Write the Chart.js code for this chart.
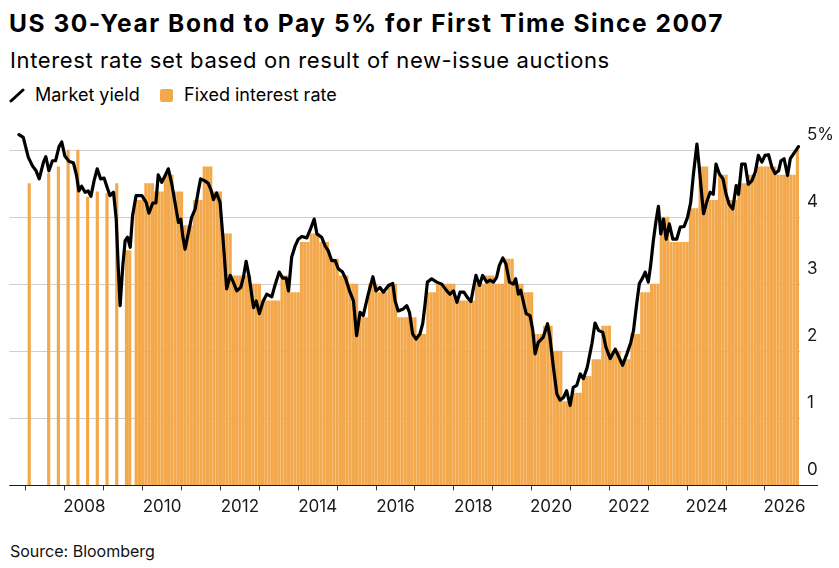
<!DOCTYPE html>
<html>
<head>
<meta charset="utf-8">
<script src="https://cdn.jsdelivr.net/npm/chart.js@4.4.1/dist/chart.umd.min.js"></script>
<style>
  html, body { margin: 0; padding: 0; background: #fff; }
  body { width: 839px; height: 568px; position: relative; overflow: hidden; font-family: Inter, "Liberation Sans", Arial, sans-serif; color: #000; }
  .txt { position: absolute; white-space: nowrap; }
  #title { left: 9px; top: 11px; font-size: 24.5px; line-height: 24px; font-weight: 700; letter-spacing: 1.55px; }
  #subtitle { left: 10px; top: 49px; font-size: 22px; line-height: 22px; letter-spacing: 0.62px; }
  .leg { top: 85px; font-size: 18px; line-height: 19px; }
  #legLine { position: absolute; left: 9px; top: 88px; }
  #legBox { position: absolute; left: 160px; top: 89px; width: 13px; height: 13px; background: #F2A84B; border-radius: 2px; }
  #source { left: 10px; top: 543px; font-size: 16px; line-height: 17px; color: #111; }
  #wrap { position: absolute; left: 0; top: 105.5px; width: 839px; height: 424.5px; }
</style>
</head>
<body>
<div id="title" class="txt">US 30-Year Bond to Pay 5% for First Time Since 2007</div>
<div id="subtitle" class="txt">Interest rate set based on result of new-issue auctions</div>
<svg id="legLine" width="16" height="15" viewBox="0 0 16 15"><line x1="2" y1="13" x2="14" y2="2" stroke="#000" stroke-width="3" stroke-linecap="round"/></svg>
<div class="txt leg" style="left:35px">Market yield</div>
<div id="legBox"></div>
<div class="txt leg" style="left:184px">Fixed interest rate</div>
<div id="wrap"><canvas id="bondChart"></canvas></div>
<div id="source" class="txt">Source: Bloomberg</div>

<script>
// auction months and the coupon set at each one
const auctionMonths = [
  '2006-08', '2007-02', '2007-05', '2007-08', '2007-11', '2008-02', '2008-05', '2008-08', '2008-11', '2009-02', '2009-03',
  '2009-05', '2009-06', '2009-07', '2009-08', '2009-09', '2009-10', '2009-11', '2009-12',
  '2010-01', '2010-02', '2010-03', '2010-04', '2010-05', '2010-06', '2010-07', '2010-08', '2010-09', '2010-10', '2010-11', '2010-12',
  '2011-01', '2011-02', '2011-03', '2011-04', '2011-05', '2011-06', '2011-07', '2011-08', '2011-09', '2011-10', '2011-11', '2011-12',
  '2012-01', '2012-02', '2012-03', '2012-04', '2012-05', '2012-06', '2012-07', '2012-08', '2012-09', '2012-10', '2012-11', '2012-12',
  '2013-01', '2013-02', '2013-03', '2013-04', '2013-05', '2013-06', '2013-07', '2013-08', '2013-09', '2013-10', '2013-11', '2013-12',
  '2014-01', '2014-02', '2014-03', '2014-04', '2014-05', '2014-06', '2014-07', '2014-08', '2014-09', '2014-10', '2014-11', '2014-12',
  '2015-01', '2015-02', '2015-03', '2015-04', '2015-05', '2015-06', '2015-07', '2015-08', '2015-09', '2015-10', '2015-11', '2015-12',
  '2016-01', '2016-02', '2016-03', '2016-04', '2016-05', '2016-06', '2016-07', '2016-08', '2016-09', '2016-10', '2016-11', '2016-12',
  '2017-01', '2017-02', '2017-03', '2017-04', '2017-05', '2017-06', '2017-07', '2017-08', '2017-09', '2017-10', '2017-11', '2017-12',
  '2018-01', '2018-02', '2018-03', '2018-04', '2018-05', '2018-06', '2018-07', '2018-08', '2018-09', '2018-10', '2018-11', '2018-12',
  '2019-01', '2019-02', '2019-03', '2019-04', '2019-05', '2019-06', '2019-07', '2019-08', '2019-09', '2019-10', '2019-11', '2019-12',
  '2020-01', '2020-02', '2020-03', '2020-04', '2020-05', '2020-06', '2020-07', '2020-08', '2020-09', '2020-10', '2020-11', '2020-12',
  '2021-01', '2021-02', '2021-03', '2021-04', '2021-05', '2021-06', '2021-07', '2021-08', '2021-09', '2021-10', '2021-11', '2021-12',
  '2022-01', '2022-02', '2022-03', '2022-04', '2022-05', '2022-06', '2022-07', '2022-08', '2022-09', '2022-10', '2022-11', '2022-12',
  '2023-01', '2023-02', '2023-03', '2023-04', '2023-05', '2023-06', '2023-07', '2023-08', '2023-09', '2023-10', '2023-11', '2023-12',
  '2024-01', '2024-02', '2024-03', '2024-04', '2024-05', '2024-06', '2024-07', '2024-08', '2024-09', '2024-10', '2024-11', '2024-12',
  '2025-01', '2025-02', '2025-03', '2025-04', '2025-05', '2025-06', '2025-07', '2025-08', '2025-09', '2025-10', '2025-11', '2025-12',
  '2026-01', '2026-02', '2026-03', '2026-04', '2026-05'
];
const couponRates = [
  4.5, 4.65, 4.75, 5, 5, 4.3, 4.375, 4.35, 4.5, 3.5, 3.5,
  4.25, 4.25, 4.25, 4.5, 4.5, 4.5, 4.375, 4.375,
  4.375, 4.625, 4.625, 4.625, 4.375, 4.375, 4.375, 3.875, 3.875, 3.875, 4.25, 4.25,
  4.25, 4.75, 4.75, 4.75, 4.375, 4.375, 4.375, 3.75, 3.75, 3.75, 3.125, 3.125,
  3.125, 3.125, 3.125, 3.125, 3, 3, 3, 2.75, 2.75, 2.75, 2.75, 2.75,
  2.75, 3.125, 3.125, 3.125, 2.875, 2.875, 2.875, 3.625, 3.625, 3.625, 3.75, 3.75,
  3.75, 3.625, 3.625, 3.625, 3.375, 3.375, 3.375, 3.125, 3.125, 3.125, 3, 3,
  3, 2.5, 2.5, 2.5, 3, 3, 3, 2.875, 2.875, 2.875, 3, 3,
  3, 2.5, 2.5, 2.5, 2.5, 2.5, 2.5, 2.25, 2.25, 2.25, 2.875, 2.875,
  2.875, 3, 3, 3, 3, 3, 3, 2.75, 2.75, 2.75, 2.75, 2.75,
  2.75, 3, 3, 3, 3.125, 3.125, 3.125, 3, 3, 3, 3.375, 3.375,
  3.375, 3, 3, 3, 2.875, 2.875, 2.875, 2.25, 2.25, 2.25, 2.375, 2.375,
  2.375, 2, 2, 2, 1.25, 1.25, 1.25, 1.375, 1.375, 1.375, 1.625, 1.625,
  1.625, 1.875, 1.875, 1.875, 2.375, 2.375, 2.375, 2, 2, 2, 1.875, 1.875,
  1.875, 2.25, 2.25, 2.25, 2.875, 2.875, 2.875, 3, 3, 3, 4, 4,
  4, 3.625, 3.625, 3.625, 3.625, 3.625, 3.625, 4.125, 4.125, 4.125, 4.75, 4.75,
  4.75, 4.25, 4.25, 4.25, 4.625, 4.625, 4.625, 4.25, 4.25, 4.25, 4.5, 4.5,
  4.5, 4.625, 4.625, 4.625, 4.75, 4.75, 4.75, 4.75, 4.75, 4.75, 4.625, 4.625,
  4.625, 4.625, 4.625, 4.625, 5
];

// market yield (decimal years)
const yieldDates = [
  2006.32, 2006.43, 2006.56, 2006.67, 2006.76, 2006.84, 2006.95, 2007.01, 2007.09, 2007.18, 2007.26, 2007.35, 2007.42, 2007.50,
  2007.61, 2007.72, 2007.80, 2007.86, 2007.93, 2008.02, 2008.10, 2008.17, 2008.25, 2008.33, 2008.42, 2008.51, 2008.60, 2008.66,
  2008.75, 2008.82, 2008.87, 2008.92, 2008.99, 2009.05, 2009.11, 2009.18, 2009.24, 2009.33, 2009.48, 2009.59, 2009.66, 2009.76,
  2009.84, 2009.90, 2009.99, 2010.08, 2010.16, 2010.25, 2010.33, 2010.42, 2010.48, 2010.53, 2010.59, 2010.67, 2010.76, 2010.85,
  2010.93, 2010.99, 2011.10, 2011.19, 2011.26, 2011.32, 2011.40, 2011.49, 2011.57, 2011.66, 2011.75, 2011.83, 2011.92, 2012.02,
  2012.09, 2012.16, 2012.24, 2012.35, 2012.42, 2012.50, 2012.60, 2012.69, 2012.82, 2012.90, 2013.01, 2013.10, 2013.19, 2013.25,
  2013.33, 2013.42, 2013.50, 2013.59, 2013.72, 2013.80, 2013.91, 2013.98, 2014.10, 2014.19, 2014.27, 2014.36, 2014.45, 2014.53,
  2014.64, 2014.72, 2014.83, 2014.92, 2015.00, 2015.09, 2015.17, 2015.30, 2015.42, 2015.50, 2015.60, 2015.69, 2015.82, 2015.93,
  2015.99, 2016.07, 2016.20, 2016.29, 2016.36, 2016.44, 2016.53, 2016.63, 2016.70, 2016.76, 2016.82, 2016.93, 2017.06, 2017.19,
  2017.32, 2017.40, 2017.49, 2017.58, 2017.66, 2017.76, 2017.85, 2017.94, 2018.00, 2018.07, 2018.16, 2018.24, 2018.35, 2018.43,
  2018.52, 2018.60, 2018.67, 2018.76, 2018.84, 2018.93, 2019.03, 2019.09, 2019.16, 2019.22, 2019.29, 2019.36, 2019.46, 2019.53,
  2019.59, 2019.67, 2019.80, 2019.91, 2019.97, 2020.06, 2020.15, 2020.23, 2020.32, 2020.40, 2020.49, 2020.57, 2020.66, 2020.75,
  2020.83, 2020.93, 2021.05, 2021.13, 2021.22, 2021.33, 2021.41, 2021.52, 2021.65, 2021.73, 2021.84, 2021.95, 2022.05, 2022.12,
  2022.20, 2022.27, 2022.36, 2022.42, 2022.50, 2022.56, 2022.63, 2022.70, 2022.76, 2022.82, 2022.89, 2022.96, 2023.04, 2023.13,
  2023.23, 2023.32, 2023.42, 2023.51, 2023.59, 2023.66, 2023.75, 2023.81, 2023.88, 2023.92, 2024.00, 2024.09, 2024.17, 2024.24,
  2024.33, 2024.42, 2024.50, 2024.58, 2024.67, 2024.76, 2024.82, 2024.90, 2024.99, 2025.07, 2025.16, 2025.25, 2025.33, 2025.42,
  2025.50, 2025.59, 2025.68, 2025.76, 2025.85, 2025.91, 2025.99, 2026.08, 2026.15, 2026.23, 2026.36
];
const yieldValues = [
  5.23, 5.19, 4.89, 4.76, 4.69, 4.57, 4.82, 4.90, 4.69, 4.84, 4.84, 5.05, 5.12, 4.91,
  4.83, 4.81, 4.62, 4.39, 4.46, 4.37, 4.39, 4.31, 4.54, 4.72, 4.57, 4.58, 4.42, 4.32,
  4.37, 3.97, 3.28, 2.68, 3.28, 3.65, 3.70, 3.55, 4.02, 4.32, 4.32, 4.22, 4.06, 4.21,
  4.21, 4.63, 4.52, 4.62, 4.72, 4.49, 4.22, 3.92, 3.97, 3.72, 3.52, 3.75, 4.00, 4.12,
  4.39, 4.57, 4.54, 4.50, 4.40, 4.26, 4.36, 4.22, 3.65, 2.93, 3.13, 3.03, 2.90, 2.95,
  3.10, 3.34, 3.10, 2.65, 2.75, 2.56, 2.75, 2.85, 2.81, 2.98, 3.18, 3.09, 3.09, 2.90,
  3.40, 3.57, 3.67, 3.71, 3.69, 3.80, 3.97, 3.75, 3.70, 3.57, 3.50, 3.35, 3.35, 3.23,
  3.18, 3.08, 2.88, 2.75, 2.23, 2.58, 2.53, 2.85, 3.11, 2.90, 2.95, 2.88, 2.98, 3.01,
  2.75, 2.60, 2.63, 2.68, 2.58, 2.26, 2.18, 2.26, 2.41, 2.70, 3.03, 3.08, 3.03, 3.00,
  2.90, 2.85, 2.90, 2.73, 2.88, 2.88, 2.80, 2.74, 2.93, 3.13, 2.98, 3.13, 3.03, 3.06,
  3.03, 3.10, 3.28, 3.39, 3.30, 3.03, 3.00, 3.08, 2.85, 2.91, 2.73, 2.56, 2.53, 2.31,
  1.96, 2.13, 2.21, 2.41, 2.21, 1.76, 1.36, 1.27, 1.31, 1.41, 1.19, 1.46, 1.49, 1.66,
  1.59, 1.76, 2.11, 2.42, 2.31, 2.28, 2.06, 1.89, 2.03, 1.93, 1.79, 1.96, 2.13, 2.31,
  2.70, 3.01, 3.10, 3.18, 3.03, 3.28, 3.65, 3.95, 4.16, 3.75, 3.97, 3.67, 3.90, 3.67,
  3.67, 3.85, 3.86, 4.00, 4.22, 4.64, 5.09, 4.74, 4.29, 4.05, 4.22, 4.37, 4.34, 4.79,
  4.64, 4.57, 4.34, 4.19, 4.12, 4.47, 4.34, 4.79, 4.79, 4.49, 4.54, 4.67, 4.92, 4.82,
  4.92, 4.93, 4.74, 4.65, 4.69, 4.84, 4.87, 4.62, 4.87, 4.94, 5.05
];

const yearTicks = [2007, 2008, 2009, 2010, 2011, 2012, 2013, 2014, 2015, 2016, 2017, 2018, 2019, 2020, 2021, 2022, 2023, 2024, 2025, 2026];
const rateTicks = [0, 1, 2, 3, 4, 5];

const toYear = s => Number(s.slice(0, 4)) + (Number(s.slice(5, 7)) - 1) / 12;

const barPoints = auctionMonths.map((m, i) => ({ x: toYear(m), y: couponRates[i] }));
const linePoints = yieldDates.map((d, i) => ({ x: d, y: yieldValues[i] }));

// baseline runs a little past the plot, under the right-hand labels
const baseline = {
  id: 'baseline',
  afterDatasetsDraw(chart) {
    const { ctx, chartArea, scales } = chart;
    const y = Math.round(scales.y.getPixelForValue(0)) + 0.5;
    ctx.save();
    ctx.strokeStyle = '#1a1a1a';
    ctx.lineWidth = 1.2;
    ctx.beginPath();
    ctx.moveTo(chartArea.left, y);
    ctx.lineTo(chartArea.right + 18, y);
    ctx.stroke();
    ctx.restore();
  }
};

Chart.defaults.font.family = 'Inter, "Liberation Sans", Arial, sans-serif';
Chart.defaults.color = '#1a1a1a';

new Chart(document.querySelector('#bondChart'), {
  type: 'bar',
  data: {
    datasets: [
      {
        type: 'line',
        label: 'Market yield',
        data: linePoints,
        borderColor: '#000',
        borderWidth: 3.2,
        pointRadius: 0,
        tension: 0,
        borderJoinStyle: 'round',
        borderCapStyle: 'round',
        order: 0
      },
      {
        type: 'bar',
        label: 'Fixed interest rate',
        data: barPoints,
        backgroundColor: '#F2A84B',
        barThickness: 2.5,
        order: 1
      }
    ]
  },
  options: {
    responsive: true,
    maintainAspectRatio: false,
    animation: false,
    layout: { padding: { left: 9.3, top: 10.5, right: 0, bottom: 0 } },
    scales: {
      x: {
        type: 'linear',
        min: 2006.071,
        max: 2026.40,
        offset: false,
        afterBuildTicks: s => { s.ticks = yearTicks.map(v => ({ value: v })); },
        afterFit: s => { s.height = 45.2; },
        border: { display: false },
        grid: { drawOnChartArea: false, drawTicks: true, tickLength: 5, color: '#333' },
        ticks: {
          autoSkip: false,
          maxRotation: 0,
          padding: 6,
          font: { size: 17 },
          callback: v => (v % 2 === 0 ? String(v) : '')
        }
      },
      y: {
        position: 'right',
        min: 0,
        max: 5.4,
        afterBuildTicks: s => { s.ticks = rateTicks.map(v => ({ value: v })); },
        afterFit: s => { s.width = 39; },
        border: { display: false },
        grid: {
          drawTicks: false,
          color: c => (c.tick && c.tick.value === 0 ? 'rgba(0,0,0,0)' : '#cfcfcf')
        },
        ticks: {
          padding: 7,
          labelOffset: -15,
          font: { size: 17 },
          callback: v => (v === 5 ? '5%' : String(v))
        }
      }
    },
    plugins: {
      legend: { display: false },
      tooltip: { enabled: false }
    }
  },
  plugins: [baseline]
});
</script>
</body>
</html>
